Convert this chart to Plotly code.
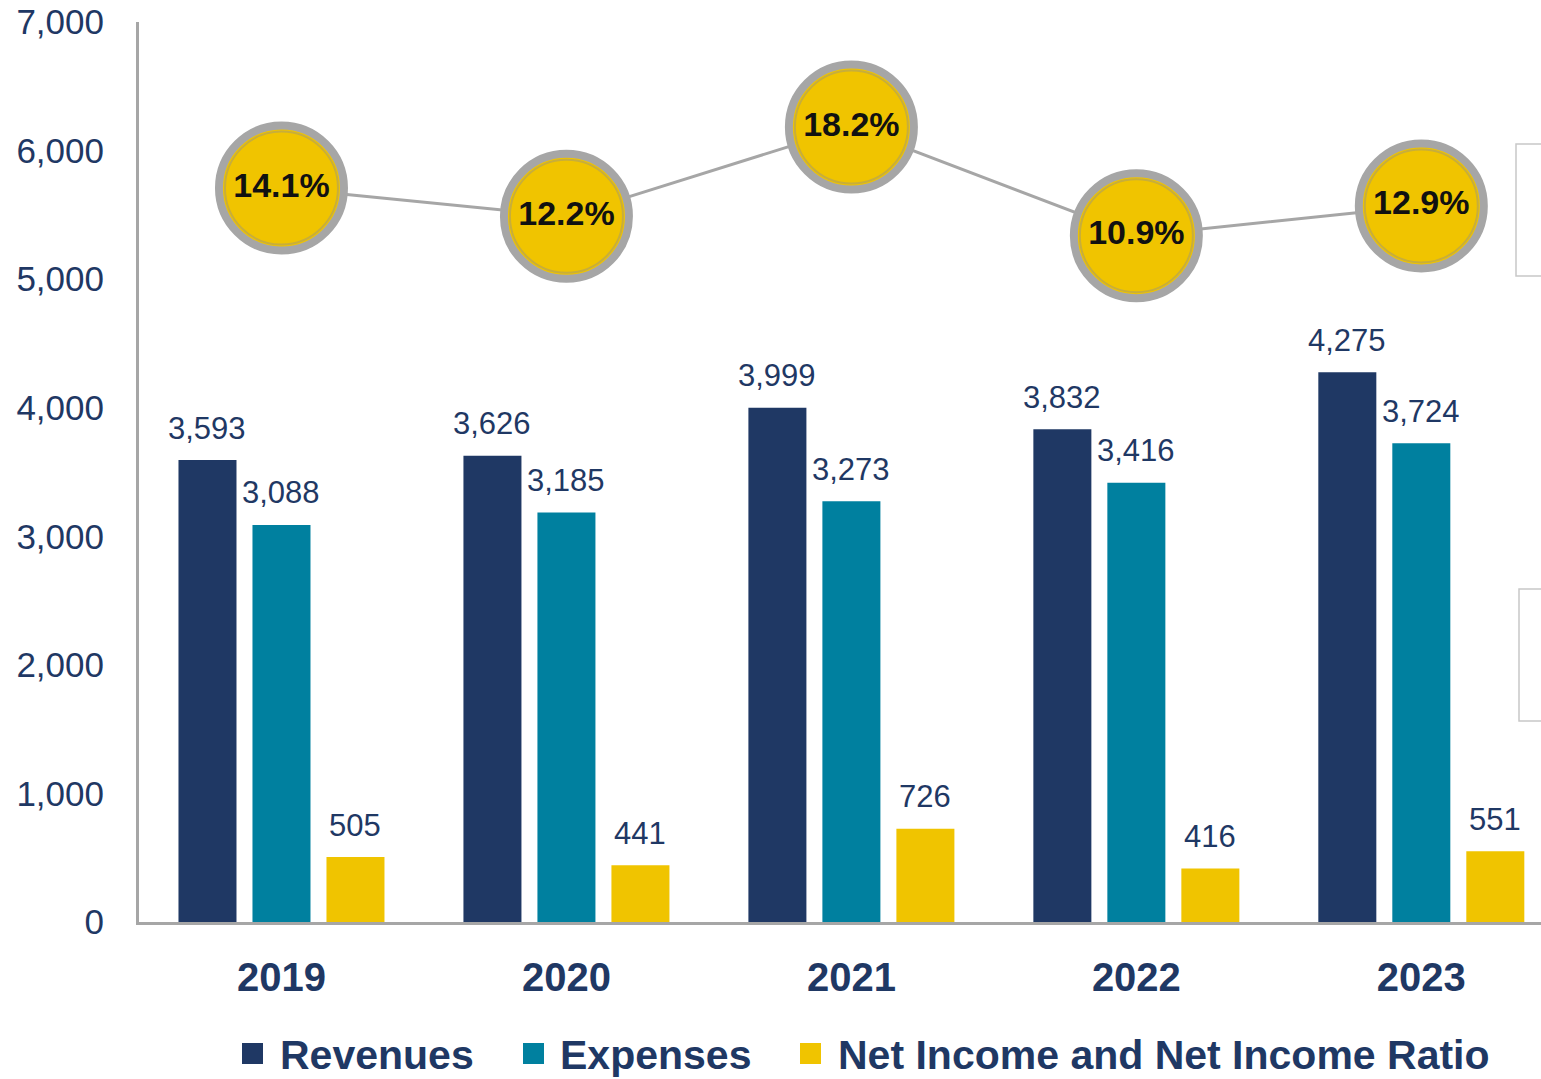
import plotly.graph_objects as go

years = ["2019", "2020", "2021", "2022", "2023"]
revenues = [3593, 3626, 3999, 3832, 4275]
expenses = [3088, 3185, 3273, 3416, 3724]
net_income = [505, 441, 726, 416, 551]
ratio = [14.1, 12.2, 18.2, 10.9, 12.9]
series_names = ["Revenues", "Expenses", "Net Income and Net Income Ratio"]

NAVY = "#1F3864"
TEAL = "#00809F"
GOLD = "#F0C400"
GRAY = "#A6A6A6"
FONT = "Liberation Sans, Arial, sans-serif"

fig = go.Figure()
for name, vals, col in zip(series_names, [revenues, expenses, net_income], [NAVY, TEAL, GOLD]):
    fig.add_trace(go.Bar(x=years, y=vals, name=name, marker=dict(color=col, line=dict(width=0)),
                         showlegend=False))

# ratio line with circles
fig.add_trace(go.Scatter(x=years, y=ratio, yaxis="y2", mode="lines+markers",
                         line=dict(color=GRAY, width=3),
                         marker=dict(size=125, color=GOLD, line=dict(color=GRAY, width=8)),
                         showlegend=False, hoverinfo="skip"))
fig.add_trace(go.Scatter(x=years, y=ratio, yaxis="y2", mode="markers+text",
                         marker=dict(size=113, color="rgba(0,0,0,0)", line=dict(color="#C8AE3A", width=2)),
                         text=[f"{v:.1f}%" for v in ratio], textposition="middle center",
                         textfont=dict(family=FONT, size=34, color="#111111", weight="bold"),
                         showlegend=False))

# bar value labels
annots = []
for vals, dx in zip([revenues, expenses, net_income], [-74, 0, 74]):
    for i, v in enumerate(vals):
        annots.append(dict(x=i, y=v, xref="x", yref="y", text=f"{v:,}", showarrow=False,
                           xshift=dx, yshift=32, yanchor="middle",
                           font=dict(family=FONT, size=31, color=NAVY)))

# manual legend
W, H, L, B = 1402, 900, 139, 922
def px(x):
    return (x - L) / W
def py(y):
    return (B - y) / H

shapes = []
leg = [(242, 278, NAVY), (523, 558, TEAL), (800, 836, GOLD)]
for (sx, tx, col), name in zip(leg, series_names):
    shapes.append(dict(type="rect", xref="paper", yref="paper", x0=px(sx), x1=px(sx + 21),
                       y0=py(1043), y1=py(1064), fillcolor=col, line=dict(width=0)))
    annots.append(dict(x=px(tx), y=py(1055), xref="paper", yref="paper", text=name,
                       showarrow=False, xanchor="left", yanchor="middle",
                       font=dict(family=FONT, size=41, color=NAVY, weight="bold")))

# partial boxes at right edge
for y0, y1, x0 in [(144, 276, 1516), (589, 721, 1519)]:
    shapes.append(dict(type="rect", xref="paper", yref="paper", x0=px(x0), x1=px(1600),
                       y0=py(y1), y1=py(y0), line=dict(color="#C8C8C8", width=1.5),
                       fillcolor="rgba(0,0,0,0)"))

fig.update_layout(
    width=1541, height=1079,
    margin=dict(l=139, r=0, t=22, b=157),
    plot_bgcolor="white", paper_bgcolor="white",
    barmode="group", bargap=0.221, bargroupgap=0.216,
    xaxis=dict(type="category", range=[-0.5, 4.42], showgrid=False, zeroline=False,
               showline=True, linecolor=GRAY, linewidth=3, ticks="",
               ticklabelstandoff=18,
               tickfont=dict(family=FONT, size=40, color=NAVY, weight="bold")),
    yaxis=dict(range=[0, 7000], dtick=1000, tickformat=",", showgrid=False, zeroline=False,
               showline=True, linecolor=GRAY, linewidth=3, ticks="", ticklabelstandoff=25,
               tickfont=dict(family=FONT, size=35, color=NAVY)),
    yaxis2=dict(overlaying="y", range=[-35.23, 25.26], visible=False),
    annotations=annots, shapes=shapes, showlegend=False,
)

fig.write_html("out.html", config={"displayModeBar": False},
               post_script="document.body.style.margin='0';document.body.style.overflow='hidden';")
